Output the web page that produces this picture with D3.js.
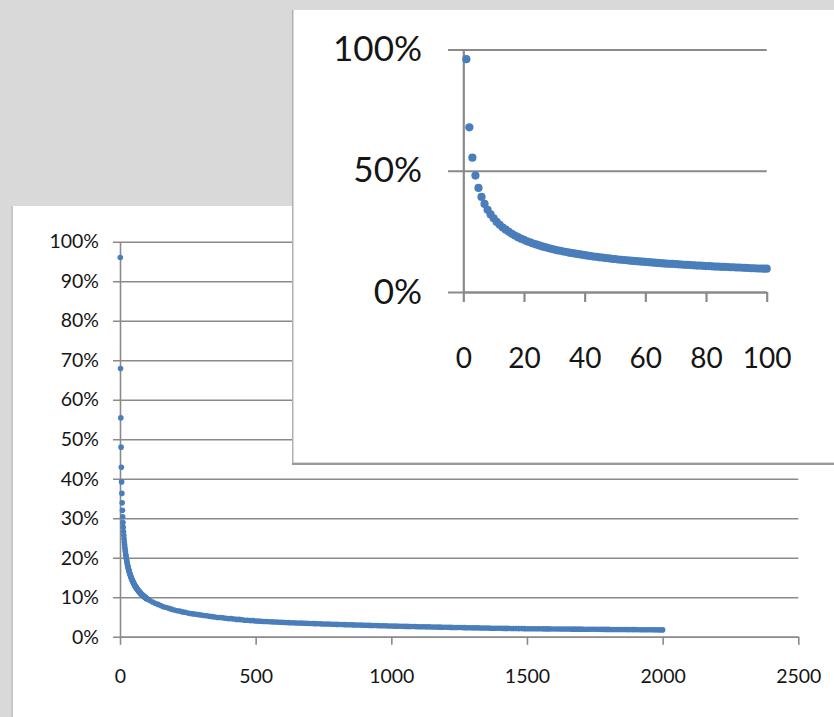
<!DOCTYPE html>
<html>
<head>
<meta charset="utf-8">
<script src="https://cdn.jsdelivr.net/npm/d3@7"></script>
<style>
  html, body { margin: 0; padding: 0; background: #d9d9d9; }
  svg { display: block; }
  text { font-family: Lato, "Open Sans", sans-serif; fill: #151515; }
</style>
</head>
<body>
<svg id="chart" width="834" height="717"></svg>
<script>
// ---- DATA ----
// share for n = 1..100 (shown in both charts; the inset zooms on it)
const headValues = [
  0.960,0.679,0.554,0.480,0.429,0.392,0.363,0.339,0.320,0.304,
  0.289,0.277,0.266,0.257,0.248,0.240,0.233,0.226,0.220,0.215,
  0.209,0.205,0.200,0.196,0.192,0.188,0.185,0.181,0.178,0.175,
  0.172,0.170,0.167,0.165,0.162,0.160,0.158,0.156,0.154,0.152,
  0.150,0.148,0.146,0.145,0.143,0.142,0.140,0.139,0.137,0.136,
  0.134,0.133,0.132,0.131,0.129,0.128,0.127,0.126,0.125,0.124,
  0.123,0.122,0.121,0.120,0.119,0.118,0.117,0.116,0.116,0.115,
  0.114,0.113,0.112,0.112,0.111,0.110,0.109,0.109,0.108,0.107,
  0.107,0.106,0.105,0.105,0.104,0.104,0.103,0.102,0.102,0.101,
  0.101,0.100,0.0995,0.099,0.098,0.098,0.097,0.097,0.096,0.096
];
// share for n = 110, 120, ..., 2000
const tailValues = [
  0.092,0.088,0.085,0.082,0.079,0.076,0.074,0.072,0.070,0.068,
  0.066,0.065,0.063,0.062,0.060,0.059,0.058,0.057,0.056,0.055,
  0.054,0.053,0.052,0.051,0.050,0.049,0.049,0.048,0.047,0.046,
  0.046,0.045,0.044,0.044,0.043,0.042,0.042,0.041,0.041,0.040,
  0.0397,0.0393,0.0389,0.0386,0.0382,0.0379,0.0375,0.0372,0.0369,0.0366,
  0.0363,0.0360,0.0357,0.0354,0.0351,0.0348,0.0346,0.0343,0.0340,0.0338,
  0.0335,0.0333,0.0330,0.0328,0.0325,0.0323,0.0321,0.0318,0.0316,0.0314,
  0.0312,0.0310,0.0308,0.0305,0.0303,0.0301,0.0299,0.0297,0.0295,0.0293,
  0.0291,0.0289,0.0287,0.0285,0.0283,0.0281,0.0279,0.0277,0.0275,0.0273,
  0.0271,0.0270,0.0268,0.0266,0.0265,0.0263,0.0261,0.0260,0.0258,0.0256,
  0.0255,0.0253,0.0252,0.0250,0.0249,0.0247,0.0246,0.0244,0.0243,0.0241,
  0.0240,0.0238,0.0237,0.0235,0.0234,0.0233,0.0231,0.0230,0.0229,0.0227,
  0.0226,0.0225,0.0223,0.0222,0.0221,0.0220,0.0218,0.0217,0.0216,0.0215,
  0.0214,0.0213,0.0212,0.0211,0.0210,0.0209,0.0208,0.0207,0.0206,0.0205,
  0.0204,0.0204,0.0203,0.0202,0.0202,0.0201,0.0200,0.0200,0.0199,0.0199,
  0.0198,0.0197,0.0197,0.0196,0.0196,0.0195,0.0194,0.0194,0.0193,0.0193,
  0.0192,0.0191,0.0191,0.0190,0.0190,0.0189,0.0188,0.0188,0.0187,0.0187,
  0.0186,0.0185,0.0185,0.0184,0.0184,0.0183,0.0182,0.0182,0.0181,0.0181,
  0.0180,0.0179,0.0179,0.0178,0.0178,0.0177,0.0176,0.0176,0.0175,0.0175
];
const headN = d3.range(1, 101);          // 1..100
const tailN = d3.range(110, 2001, 10);   // 110..2000

const mainXTicks = [0, 500, 1000, 1500, 2000, 2500];
const mainYTicks = [0, 0.1, 0.2, 0.3, 0.4, 0.5, 0.6, 0.7, 0.8, 0.9, 1.0];
const insetXTicks = [0, 20, 40, 60, 80, 100];
const insetYTicks = [0, 0.5, 1.0];

// ---- BUILD ----
const headPts = headN.map((n, i) => ({ n, v: headValues[i] }));
const tailPts = tailN.map((n, i) => ({ n, v: tailValues[i] }));
const allPts = headPts.concat(tailPts);

const svg = d3.select("#chart");
const GRID = "#8a8a8a";
const DOT = "#4a7ebb";
const TXT = "#151515";
const pct = d3.format(".0%");

// ---------- Main panel ----------
svg.append("rect").attr("x", 11).attr("y", 206).attr("width", 823).attr("height", 511).attr("fill", "#c8c8c8");
svg.append("rect").attr("x", 13).attr("y", 206).attr("width", 821).attr("height", 511).attr("fill", "#ffffff");

const mx = d3.scaleLinear().domain([0, 2500]).range([120, 798.3]);
const my = d3.scaleLinear().domain([0, 1]).range([636.8, 241.7]);

const main = svg.append("g");

const yAx = main.append("g")
  .attr("transform", "translate(113,0)")
  .call(d3.axisLeft(my).tickValues(mainYTicks).tickFormat(pct)
        .tickSize(-(mx(2500) - 113)).tickPadding(14));
yAx.select(".domain").remove();
yAx.selectAll(".tick line").attr("stroke", GRID).attr("stroke-width", 1.6);
yAx.selectAll(".tick text").attr("font-size", 19.5).attr("fill", TXT)
   .attr("font-family", "Lato, sans-serif");

const xAx = main.append("g")
  .attr("transform", `translate(0,${my(0)})`)
  .call(d3.axisBottom(mx).tickValues(mainXTicks).tickFormat(d3.format("d"))
        .tickSizeInner(8).tickSizeOuter(0).tickPadding(24));
xAx.select(".domain").attr("stroke", GRID).attr("stroke-width", 1.6);
xAx.selectAll(".tick line").attr("stroke", GRID).attr("stroke-width", 1.6);
xAx.selectAll(".tick text").attr("font-size", 19.5).attr("fill", TXT)
   .attr("font-family", "Lato, sans-serif");

main.append("g")
  .attr("transform", `translate(${mx(0)},0)`)
  .call(d3.axisLeft(my).tickValues([]).tickSizeOuter(0))
  .select(".domain").attr("stroke", GRID).attr("stroke-width", 1.6);

main.append("g").selectAll("circle").data(allPts).join("circle")
  .attr("cx", d => mx(d.n)).attr("cy", d => my(d.v))
  .attr("r", 2.8).attr("fill", DOT);

// ---------- Inset panel ----------
svg.append("rect").attr("x", 292).attr("y", 10).attr("width", 542).attr("height", 455).attr("fill", "#b0b0b0");
svg.append("rect").attr("x", 292).attr("y", 463).attr("width", 542).attr("height", 2).attr("fill", "#9a9a9a");
svg.append("rect").attr("x", 293.5).attr("y", 10).attr("width", 541).attr("height", 452.5).attr("fill", "#ffffff");

const ix = d3.scaleLinear().domain([0, 100]).range([463.3, 766.7]);
const iy = d3.scaleLinear().domain([0, 1]).range([292, 49.5]);

const inset = svg.append("g");

const iyAx = inset.append("g")
  .attr("transform", "translate(448,0)")
  .call(d3.axisLeft(iy).tickValues(insetYTicks).tickFormat(pct)
        .tickSize(-(ix(100) - 448)).tickPadding(26));
iyAx.select(".domain").remove();
iyAx.selectAll(".tick line").attr("stroke", GRID).attr("stroke-width", 2.2);
iyAx.selectAll(".tick text").attr("font-size", 35).attr("fill", TXT)
   .attr("font-family", "Lato, sans-serif");

const ixAx = inset.append("g")
  .attr("transform", `translate(0,${iy(0)})`)
  .call(d3.axisBottom(ix).tickValues(insetXTicks).tickFormat(d3.format("d"))
        .tickSizeInner(10).tickSizeOuter(0).tickPadding(46));
ixAx.select(".domain").attr("stroke", GRID).attr("stroke-width", 2.2);
ixAx.selectAll(".tick line").attr("stroke", GRID).attr("stroke-width", 2.2);
ixAx.selectAll(".tick text").attr("font-size", 28).attr("fill", TXT)
   .attr("font-family", "Lato, sans-serif");

inset.append("g")
  .attr("transform", `translate(${ix(0)},0)`)
  .call(d3.axisLeft(iy).tickValues([]).tickSizeOuter(0))
  .select(".domain").attr("stroke", GRID).attr("stroke-width", 2.2);

inset.append("g").selectAll("circle").data(headPts).join("circle")
  .attr("cx", d => ix(d.n)).attr("cy", d => iy(d.v))
  .attr("r", 4.1).attr("fill", DOT);
</script>
</body>
</html>
